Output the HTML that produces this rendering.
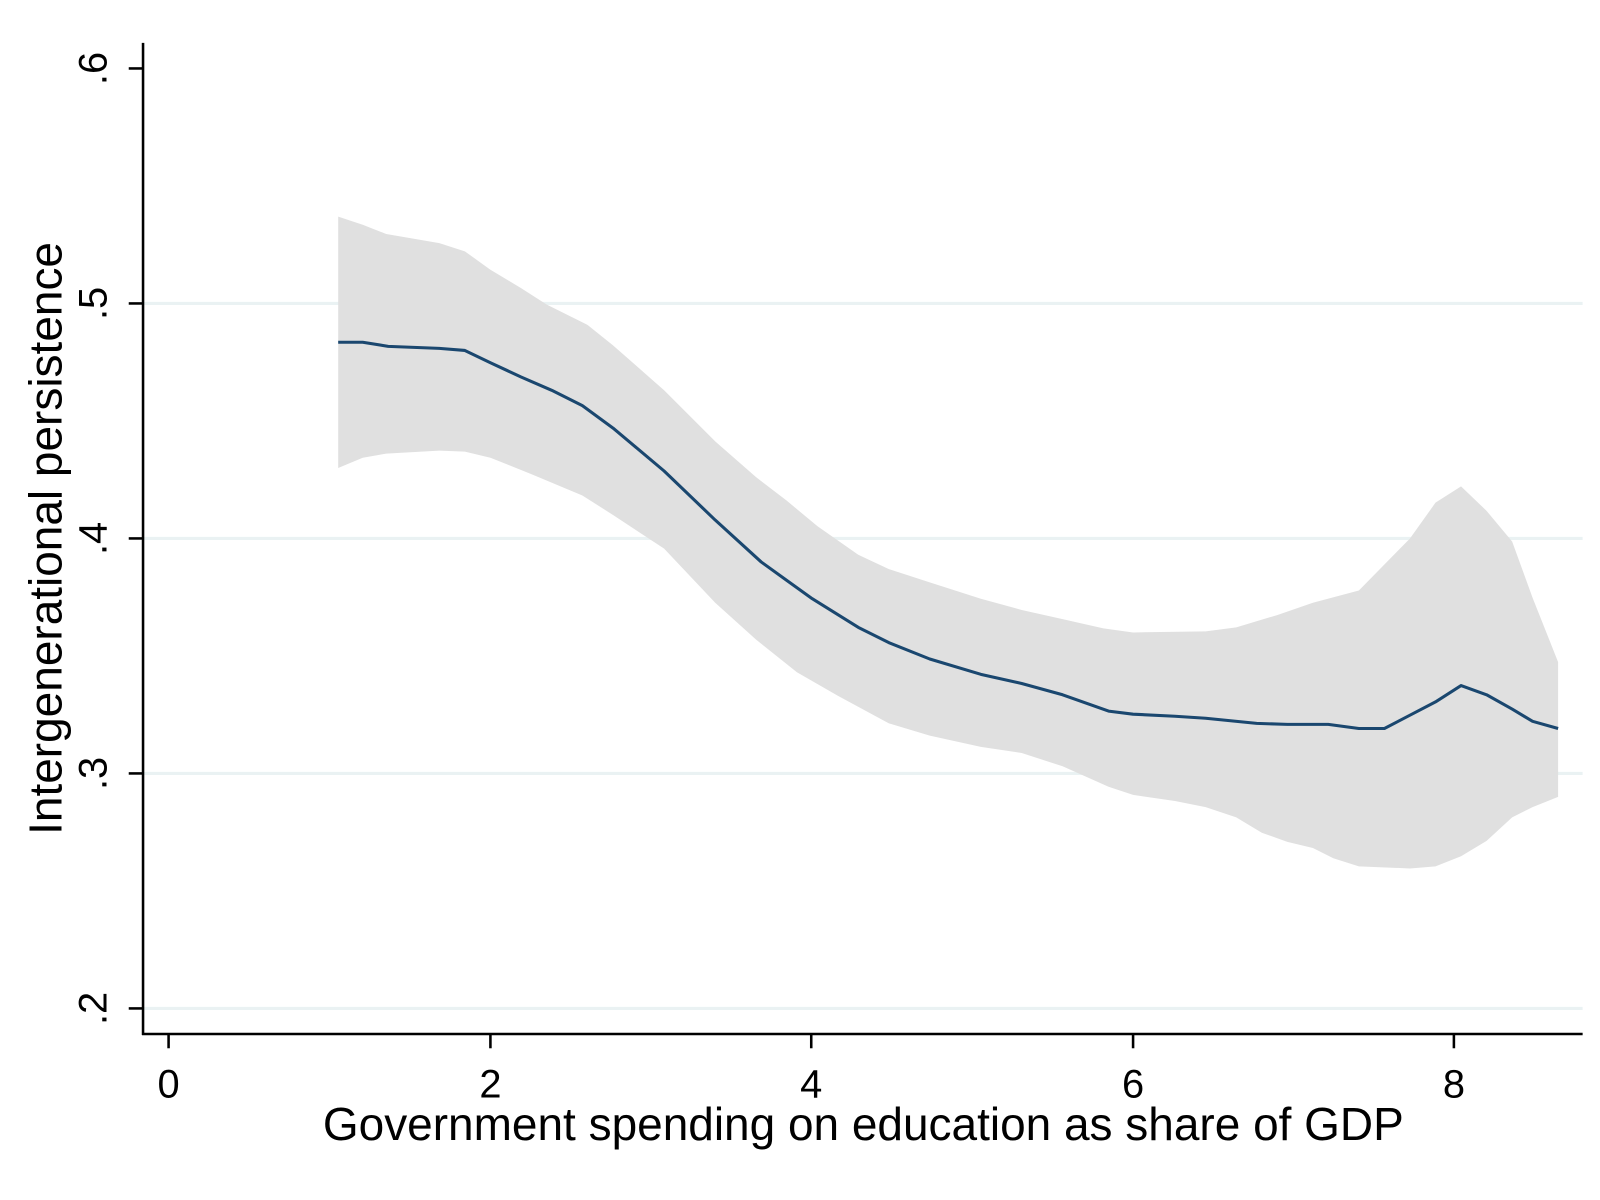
<!DOCTYPE html>
<html><head><style>html,body{margin:0;padding:0;background:#fff;}svg{display:block}</style></head>
<body>
<svg width="1600" height="1200" viewBox="0 0 1566 1174.5" preserveAspectRatio="none" xmlns="http://www.w3.org/2000/svg" font-family="Liberation Sans, Arial, sans-serif">
<rect width="1566" height="1174.5" fill="#fff"/>
<g stroke="#eaf2f3" stroke-width="3">
<line x1="141" y1="297" x2="1549" y2="297"/>
<line x1="141" y1="527" x2="1549" y2="527"/>
<line x1="141" y1="757" x2="1549" y2="757"/>
<line x1="141" y1="987" x2="1549" y2="987"/>
</g>
<path fill="#e0e0e0" d="M331,212 L355,220 L378,229 L430,238 L455,246 L480,264 L510,282 L535,298 L575,318 L600,338 L650,382 L700,432 L740,467 L770,490 L800,515 L840,543 L870,557 L910,570 L960,586 L1000,597 L1040,606 L1080,615 L1109,619 L1180,618 L1210,614 L1250,602 L1285,590 L1330,578 L1380,527 L1405,492 L1430,476 L1455,500 L1480,530 L1500,585 L1525,648 L1525,780 L1500,790 L1480,800 L1455,823 L1430,838 L1405,848 L1380,850 L1330,848 L1305,840 L1285,830 L1260,824 L1235,815 L1210,800 L1180,790 L1150,784 L1109,778 L1085,770 L1040,750 L1000,737 L960,731 L910,720 L870,708 L820,681 L780,658 L740,626 L700,590 L650,537 L600,504 L570,485 L520,464 L480,448 L455,442 L430,441 L378,444 L355,448 L331,458 Z"/>
<polyline fill="none" stroke="#1a476f" stroke-width="3" stroke-linejoin="round" points="331,335 355,335 380,339 430,341 455,343 480,355 510,369 540,382 570,397 600,419 650,461 700,509 745,550 770,568 795,586 840,614 870,629 910,645 960,660 1000,669 1040,680 1085,696 1109,699 1150,701 1180,703 1230,708 1260,709 1300,709 1330,713 1355,713 1380,700 1405,687 1430,671 1455,680 1480,694 1500,706 1525,713"/>
<g stroke="#000" stroke-width="2.5" fill="none">
<line x1="140" y1="42" x2="140" y2="1013"/>
<line x1="139" y1="1012" x2="1549" y2="1012"/>
<line x1="165" y1="1012" x2="165" y2="1026"/>
<line x1="480" y1="1012" x2="480" y2="1026"/>
<line x1="794" y1="1012" x2="794" y2="1026"/>
<line x1="1109" y1="1012" x2="1109" y2="1026"/>
<line x1="1423" y1="1012" x2="1423" y2="1026"/>
<line x1="126" y1="67" x2="140" y2="67"/>
<line x1="126" y1="297" x2="140" y2="297"/>
<line x1="126" y1="527" x2="140" y2="527"/>
<line x1="126" y1="757" x2="140" y2="757"/>
<line x1="126" y1="987" x2="140" y2="987"/>
</g>
<g font-size="39" text-anchor="middle" fill="#000">
<text x="165" y="1074">0</text>
<text x="480" y="1074">2</text>
<text x="794" y="1074">4</text>
<text x="1109" y="1074">6</text>
<text x="1423" y="1074">8</text>
<text transform="translate(104,67) rotate(-90)">.6</text>
<text transform="translate(104,297) rotate(-90)">.5</text>
<text transform="translate(104,527) rotate(-90)">.4</text>
<text transform="translate(104,757) rotate(-90)">.3</text>
<text transform="translate(104,987) rotate(-90)">.2</text>
</g>
<text x="845" y="1116" font-size="45" text-anchor="middle">Government spending on education as share of GDP</text>
<text transform="translate(60,527) rotate(-90)" font-size="45" text-anchor="middle">Intergenerational persistence</text>
</svg>
</body></html>
